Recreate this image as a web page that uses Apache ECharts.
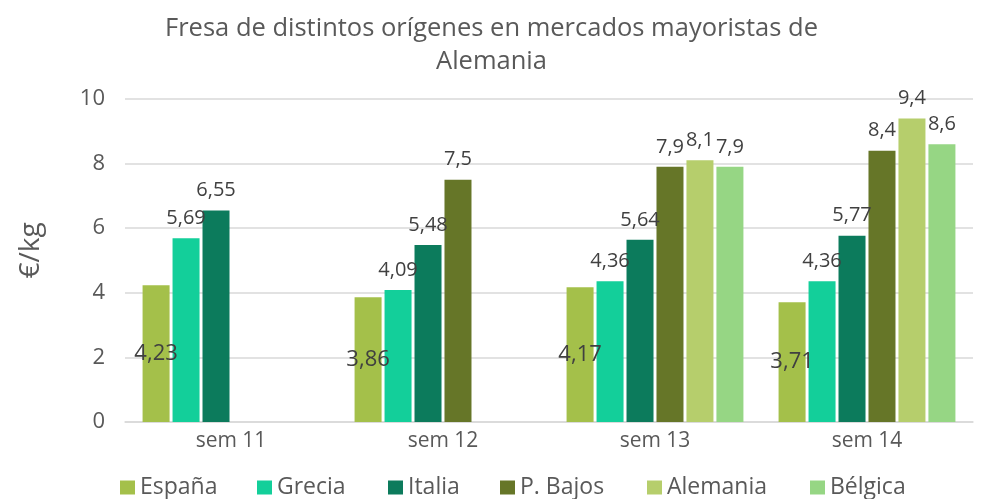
<!DOCTYPE html>
<html>
<head>
<meta charset="utf-8">
<script src="https://cdn.jsdelivr.net/npm/echarts@6/dist/echarts.min.js"></script>
<style>html,body{margin:0;padding:0;background:#fff;}#c{width:983px;height:499px;}</style>
</head>
<body>
<div id="c"></div>
<script>
const categories = ['sem 11', 'sem 12', 'sem 13', 'sem 14'];
const seriesNames = ['España', 'Grecia', 'Italia', 'P. Bajos', 'Alemania', 'Bélgica'];
const espana   = [4.23, 3.86, 4.17, 3.71];
const grecia   = [5.69, 4.09, 4.36, 4.36];
const italia   = [6.55, 5.48, 5.64, 5.77];
const pbajos   = [null, 7.5, 7.9, 8.4];
const alemania = [null, null, 8.1, 9.4];
const belgica  = [null, null, 7.9, 8.6];
const yTicks = [0, 2, 4, 6, 8, 10];

const colors = ['#A4C04A', '#13CF9A', '#0C7B5C', '#667628', '#B6CE6C', '#96D684'];
const legendLeft = [115, 252, 383, 495, 642, 805];
const FONT = '"Open Sans", sans-serif';
const fmt = p => String(p.value).replace('.', ',');

const dataSets = [espana, grecia, italia, pbajos, alemania, belgica];
const series = dataSets.map((d, i) => ({
  name: seriesNames[i],
  type: 'bar',
  data: d,
  barWidth: 27,
  barGap: '11%',
  itemStyle: { color: colors[i] },
  label: i === 0 ? {
    show: true, position: 'inside', formatter: fmt,
    color: '#404040', fontSize: 22, fontFamily: FONT
  } : {
    show: true, position: 'top', distance: 10, formatter: fmt,
    color: '#404040', fontSize: 20, fontFamily: FONT
  }
}));

const legends = seriesNames.map((n, i) => ({
  top: 471, left: legendLeft[i],
  itemWidth: 15, itemHeight: 14, itemGap: 0, icon: 'rect',
  textStyle: { fontFamily: FONT, fontSize: 23, color: '#595959' },
  data: [n]
}));

const chart = echarts.init(document.getElementById('c'), null, { renderer: 'canvas' });
chart.setOption({
  animation: false,
  color: colors,
  title: {
    text: 'Fresa de distintos orígenes en mercados mayoristas de\nAlemania',
    left: 'center', top: 7,
    textStyle: { fontFamily: FONT, fontSize: 25.5, fontWeight: 'normal', color: '#595959', lineHeight: 33 }
  },
  grid: { left: 125, right: 10, top: 99, bottom: 77 },
  legend: legends,
  xAxis: {
    type: 'category', data: categories,
    axisLine: { lineStyle: { color: '#D9D9D9', width: 1.5 } },
    axisTick: { show: false },
    axisLabel: { fontFamily: FONT, fontSize: 21, color: '#595959', margin: 9 }
  },
  yAxis: {
    type: 'value', min: yTicks[0], max: yTicks[yTicks.length - 1], interval: 2,
    name: '€/kg', nameLocation: 'middle', nameGap: 80,
    nameTextStyle: { fontFamily: FONT, fontSize: 28, color: '#595959', padding: [0, 0, 0, 20] },
    axisLine: { show: false }, axisTick: { show: false },
    axisLabel: { fontFamily: FONT, fontSize: 22, color: '#595959', margin: 20 },
    splitLine: { lineStyle: { color: '#D9D9D9', width: 1.5 } }
  },
  series: series
});
</script>
</body>
</html>
